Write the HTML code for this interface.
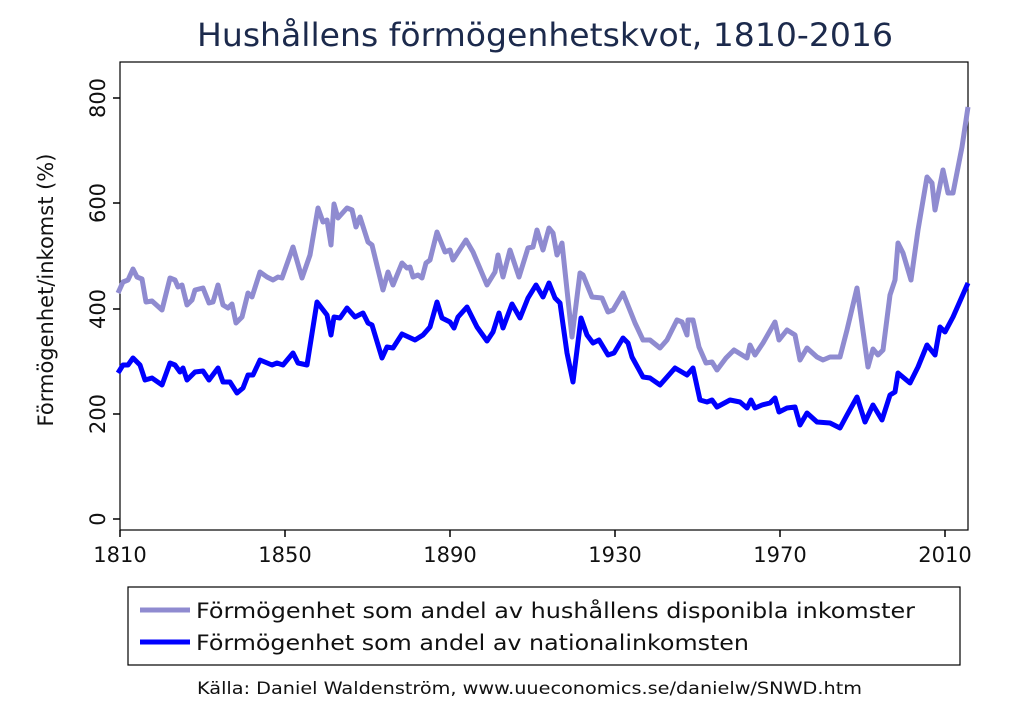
<!DOCTYPE html>
<html><head><meta charset="utf-8"><style>
body{margin:0;background:#fff;}
svg text{font-family:"DejaVu Sans","Liberation Sans",sans-serif;fill:#111;}
</style></head><body>
<svg width="1024" height="720" viewBox="0 0 1024 720">
<rect width="1024" height="720" fill="#fff"/>
<text x="197" y="46" font-size="32" textLength="696" lengthAdjust="spacingAndGlyphs" style="fill:#1c2a4c">Hushållens förmögenhetskvot, 1810-2016</text>
<rect x="120" y="62" width="848" height="468" fill="none" stroke="#000" stroke-width="1.2"/>
<g stroke="#000" stroke-width="1.5">
<line x1="113" y1="519" x2="120" y2="519"/><line x1="113" y1="414" x2="120" y2="414"/><line x1="113" y1="309" x2="120" y2="309"/><line x1="113" y1="203" x2="120" y2="203"/><line x1="113" y1="98" x2="120" y2="98"/>
<line x1="120" y1="530" x2="120" y2="537"/><line x1="285" y1="530" x2="285" y2="537"/><line x1="450" y1="530" x2="450" y2="537"/><line x1="615" y1="530" x2="615" y2="537"/><line x1="780" y1="530" x2="780" y2="537"/><line x1="945" y1="530" x2="945" y2="537"/>
</g>
<g font-size="21" text-anchor="middle">
<text transform="translate(105,519) rotate(-90)">0</text>
<text transform="translate(105,414) rotate(-90)">200</text>
<text transform="translate(105,309) rotate(-90)">400</text>
<text transform="translate(105,203) rotate(-90)">600</text>
<text transform="translate(105,98) rotate(-90)">800</text>
<text transform="translate(53,290) rotate(-90)">Förmögenhet/inkomst (%)</text>
<text x="120" y="562">1810</text><text x="285" y="562">1850</text><text x="450" y="562">1890</text><text x="615" y="562">1930</text><text x="780" y="562">1970</text><text x="945" y="562">2010</text>
</g>
<polyline fill="none" stroke="#8f8bd0" stroke-width="5" stroke-linejoin="round" points="118,293 123,282 128,280 133,269 137,277 142,279 146,302 152,301 162,310 170,278 175,280 178,287 182,285 187,305 192,300 195,290 203,288 209,303 213,302 218,285 223,305 228,308 232,304 236,323 242,317 248,293 252,297 260,272 267,277 273,280 278,277 282,278 293,247 302,278 310,255 318,208 323,222 327,220 331,245 334,204 338,218 347,208 352,210 356,227 360,217 368,242 372,245 383,290 388,272 393,285 402,263 407,268 410,267 413,277 418,275 422,278 426,263 430,260 437,232 445,252 450,250 453,260 466,240 473,252 487,285 495,272 498,255 503,277 510,250 519,277 528,248 533,247 537,230 543,250 549,228 553,233 557,255 562,243 572,337 580,273 583,275 592,297 602,298 608,312 613,310 623,293 635,323 643,340 650,340 660,348 667,340 677,320 682,322 687,335 688,320 693,320 699,347 706,363 712,362 717,370 726,358 734,350 747,358 750,345 755,355 763,343 775,322 779,340 787,330 795,335 800,360 807,348 817,357 823,360 830,357 840,357 847,330 857,288 868,367 873,349 878,355 883,350 890,295 895,280 898,243 903,253 911,280 918,230 927,177 932,183 935,210 943,170 948,193 953,193 962,147 968,107"/>
<polyline fill="none" stroke="#0000ff" stroke-width="5" stroke-linejoin="round" points="118,373 123,365 128,365 133,358 140,365 145,380 152,378 162,385 170,363 175,365 180,372 183,368 187,380 195,372 203,371 209,380 218,368 223,382 230,382 237,393 243,388 248,375 253,375 260,360 272,365 277,363 283,365 293,353 298,363 307,365 317,302 327,315 331,335 334,317 340,318 347,308 355,317 363,313 368,323 372,325 382,358 387,347 393,348 402,334 415,340 423,335 430,327 437,302 442,318 450,322 454,328 458,317 467,307 477,327 487,341 493,332 499,313 503,328 512,304 520,318 528,298 536,285 543,297 549,283 555,298 560,303 567,353 573,382 581,318 587,335 593,343 599,340 608,355 614,353 623,338 628,343 632,357 643,377 650,378 660,385 675,368 687,375 693,368 700,400 707,402 712,400 717,407 730,400 740,402 747,408 751,400 755,408 762,405 770,403 775,398 779,412 787,408 795,407 800,425 807,413 817,422 830,423 840,428 847,415 857,397 865,422 873,405 882,420 890,395 895,392 898,373 910,383 918,367 927,345 935,355 940,327 945,332 953,317 968,283"/>
<rect x="128" y="587" width="832" height="78" fill="none" stroke="#000" stroke-width="1.2"/>
<line x1="140" y1="610" x2="190" y2="610" stroke="#8f8bd0" stroke-width="5"/>
<line x1="140" y1="642" x2="190" y2="642" stroke="#0000ff" stroke-width="5"/>
<g font-size="21">
<text x="196" y="618" textLength="719" lengthAdjust="spacingAndGlyphs">Förmögenhet som andel av hushållens disponibla inkomster</text>
<text x="196" y="650" textLength="553" lengthAdjust="spacingAndGlyphs">Förmögenhet som andel av nationalinkomsten</text>
</g>
<text x="197" y="694" font-size="17" textLength="665" lengthAdjust="spacingAndGlyphs">Källa: Daniel Waldenström, www.uueconomics.se/danielw/SNWD.htm</text>
</svg>
</body></html>
